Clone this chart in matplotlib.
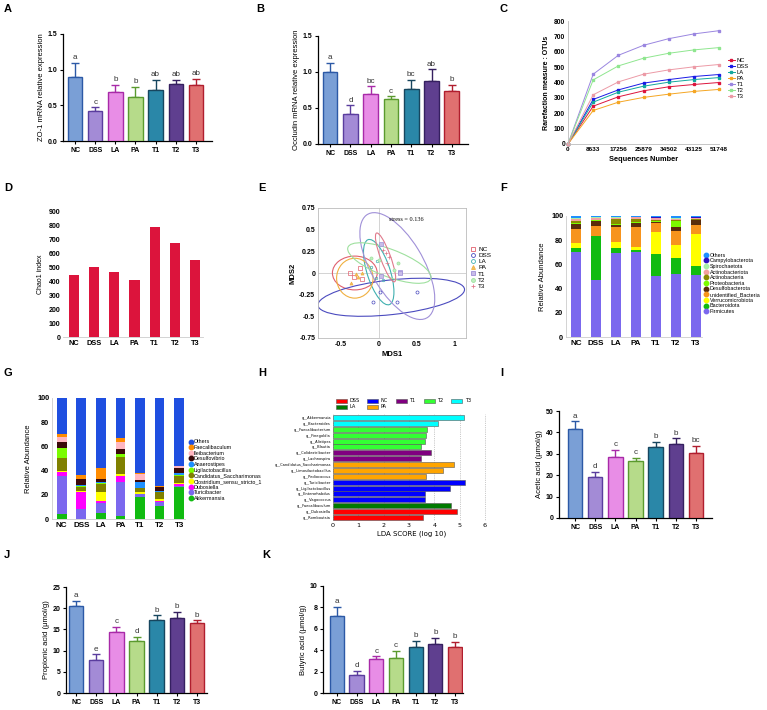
import numpy as np
import matplotlib
matplotlib.use("Agg")
import matplotlib.pyplot as plt
from matplotlib.patches import Ellipse, Patch
from matplotlib.lines import Line2D

plt.rcParams['font.family'] = ['Liberation Sans', 'DejaVu Sans']
plt.rcParams['axes.linewidth'] = 0.9

W, H = 767, 710
groups = ['NC', 'DSS', 'LA', 'PA', 'T1', 'T2', 'T3']

# ---- bar panels (mean, sd, letters)
zo1_mean = [0.90, 0.42, 0.69, 0.62, 0.72, 0.80, 0.78]
zo1_sd = [0.20, 0.05, 0.10, 0.14, 0.14, 0.055, 0.09]
zo1_let = ['a', 'c', 'b', 'b', 'ab', 'ab', 'ab']

occ_mean = [1.00, 0.41, 0.69, 0.62, 0.77, 0.87, 0.74]
occ_sd = [0.13, 0.13, 0.11, 0.04, 0.12, 0.17, 0.08]
occ_let = ['a', 'd', 'bc', 'c', 'bc', 'ab', 'b']

ace_mean = [41.6, 19.2, 28.3, 26.5, 33.3, 34.7, 30.5]
ace_sd = [3.6, 2.3, 3.7, 1.7, 2.3, 2.5, 3.2]
ace_let = ['a', 'd', 'c', 'c', 'b', 'b', 'bc']

pro_mean = [20.5, 7.9, 14.4, 12.2, 17.3, 17.8, 16.5]
pro_sd = [1.2, 1.2, 1.2, 1.1, 1.0, 1.4, 0.6]
pro_let = ['a', 'e', 'c', 'd', 'b', 'b', 'b']

but_mean = [7.24, 1.71, 3.17, 3.23, 4.32, 4.60, 4.29]
but_sd = [0.83, 0.37, 0.25, 0.71, 0.56, 0.56, 0.52]
but_let = ['a', 'd', 'c', 'c', 'b', 'b', 'b']

# ---- rarefaction
seq_num = [0, 8633, 17256, 25879, 34502, 43125, 51748]
rare = {
    'NC': [0, 246, 307, 346, 372, 387, 400],
    'DSS': [0, 290, 352, 396, 419, 439, 452],
    'LA': [0, 272, 337, 376, 402, 419, 432],
    'PA': [0, 218, 272, 303, 324, 342, 355],
    'T1': [0, 454, 577, 642, 685, 716, 737],
    'T2': [0, 417, 508, 558, 590, 612, 627],
    'T3': [0, 320, 404, 454, 482, 502, 517],
}
rare_col = {'NC': '#dc143c', 'DSS': '#1a1ae6', 'LA': '#13a89e', 'PA': '#f5a623',
            'T1': '#9a86e0', 'T2': '#8fe68f', 'T3': '#ec9aa6'}

# ---- chao1
chao1 = [445, 498, 467, 410, 788, 669, 552]

# ---- NMDS points
nmds = {
    'NC': ([-0.38, -0.32, -0.25, -0.215], [0.0, -0.045, 0.062, -0.066]),
    'DSS': ([-0.075, 0.02, 0.245, 0.50], [-0.34, -0.22, -0.34, -0.22]),
    'LA': ([-0.10, -0.02, -0.04, 0.057], [0.066, 0.14, -0.055, -0.08]),
    'PA': ([-0.36, -0.30, -0.22, -0.27], [-0.12, -0.015, -0.004, -0.05]),
    'T1': ([0.026, 0.035, 0.285, 0.285], [0.33, -0.035, 0.015, -0.005]),
    'T2': ([-0.10, 0.01, 0.25, 0.20], [0.17, 0.15, 0.12, 0.03]),
    'T3': ([0.05, 0.09, 0.13, 0.11], [0.27, 0.23, 0.19, 0.12]),
}
# centre x, centre y, width, height, angle
nmds_ell = {
    'NC': (-0.315, 0.0, 0.59, 0.39, 0),
    'PA': (-0.315, -0.06, 0.48, 0.46, 0),
    'DSS': (0.165, -0.28, 1.94, 0.40, 5.5),
    'T1': (0.245, 0.08, 1.43, 0.67, -55),
    'T2': (0.14, 0.115, 1.15, 0.32, -18),
    'LA': (0.0, 0.01, 0.80, 0.30, -69),
    'T3': (0.09, 0.18, 0.61, 0.13, -67),
}
nmds_style = {
    'NC': ('s', '#e0606e', 'none'), 'DSS': ('o', '#4b4bbf', 'none'),
    'LA': ('o', '#40b0b0', 'none'), 'PA': ('^', '#f0b040', '#f0c060'),
    'T1': ('s', '#a090d8', '#c8bce8'), 'T2': ('o', '#9ee09e', '#c0f0c0'),
    'T3': ('+', '#e07a8c', '#e07a8c'),
}

# ---- phylum relative abundance
phyla = ['Firmicutes', 'Bacteroidota', 'Verrucomicrobiota', 'unidentified_Bacteria',
         'Desulfobacterota', 'Proteobacteria', 'Actinobacteria', 'Actinobacteriota',
         'Spirochaetota', 'Campylobacterota']
phy_vals = np.array([
    [70.5, 46.8, 69.1, 70.5, 50.4, 52.3, 51.2],
    [2.8, 36.7, 4.7, 1.4, 18.2, 13.3, 7.5],
    [4.1, 0.3, 4.7, 2.8, 18.2, 10.4, 26.4],
    [11.6, 8.0, 12.1, 15.9, 7.2, 11.3, 7.7],
    [4.4, 4.2, 2.2, 3.9, 1.0, 3.6, 3.9],
    [0.6, 0.3, 0.6, 0.5, 1.1, 5.2, 0.3],
    [1.9, 0.8, 3.8, 2.5, 0.3, 0.9, 0.5],
    [1.3, 1.3, 1.4, 1.4, 1.6, 0.8, 0.8],
    [0.8, 0.5, 0.3, 0.2, 0.3, 0.5, 0.3],
    [0.6, 0.3, 0.2, 0.2, 1.1, 0.3, 0.8],
])
phy_cols = ['#7b68ee', '#11bb11', '#ffff00', '#f7941d', '#5a2d0c', '#7cfc00',
            '#8b8b00', '#f4a0a0', '#a8f0a8', '#3010c0', '#1e90ff']

# ---- genus relative abundance
genera = ['Akkermansia', 'Turicibacter', 'Dubosiella', 'Clostridium_sensu_stricto_1',
          'Candidatus_Saccharimonas', 'Ligilactobacillus', 'Anaerostipes', 'Desulfovibrio',
          'Ileibacterium', 'Faecalibaculum']
gen_vals = np.array([
    [3.9, 0.2, 4.7, 2.2, 18.5, 10.8, 26.2],
    [31.7, 8.1, 8.3, 28.2, 2.2, 3.6, 1.4],
    [3.3, 14.4, 1.9, 5.2, 0.3, 0.5, 1.1],
    [1.1, 0.8, 7.2, 1.7, 1.7, 1.4, 1.4],
    [10.8, 3.3, 6.6, 14.1, 2.7, 5.8, 5.8],
    [7.5, 0.3, 1.4, 2.2, 0.3, 0.2, 0.3],
    [0.3, 0.8, 0.8, 0.3, 5.0, 0.9, 2.2],
    [4.9, 5.2, 2.2, 4.1, 1.9, 3.0, 3.6],
    [3.9, 0.3, 0.3, 5.6, 4.7, 0.2, 1.4],
    [2.8, 2.8, 9.1, 3.6, 0.8, 0.9, 0.3],
])
gen_cols = ['#11bb11', '#7b68ee', '#ff00ff', '#ffff00', '#808000', '#7cfc00',
            '#1e90ff', '#3b0a0a', '#ffb6c1', '#ff8c00', '#1f4fe0']

# ---- LEfSe
lda_taxa = ['g__Akkermansia', 'g__Bacteroides', 'g__Faecalibacterium', 'g__Finegoldia',
            'g__Alistipes', 'g__Blautia', 'g__Colidextribacter', 'g__Lachnospira',
            'g__Candidatus_Saccharimonas', 'g__Limosilactobacillus', 'g__Pediococcus',
            'g__Turicibacter', 'g__Ligilactobacillus', 'g__Enterorhabdus', 'g__Vagococcus',
            'g__Faecalibaculum', 'g__Dubosiella', 'g__Romboutsia']
lda_score = [5.16, 4.16, 3.73, 3.69, 3.63, 3.46, 3.87, 3.46, 4.76, 4.35, 3.68,
             5.21, 4.64, 3.65, 3.65, 4.67, 4.89, 3.56]
lda_group = ['T3', 'T3', 'T2', 'T2', 'T2', 'T2', 'T1', 'T1', 'PA', 'PA', 'PA',
             'NC', 'NC', 'NC', 'NC', 'LA', 'DSS', 'DSS']
lda_col = {'DSS': '#ff0000', 'NC': '#0000ff', 'T1': '#800080', 'T2': '#33ff33',
           'T3': '#00ffff', 'LA': '#007a00', 'PA': '#ffa500'}

bar_face = ['#7a9fd6', '#a38bd6', '#e88de6', '#b6db8a', '#2a87a8', '#5f3f8f', '#e07070']
bar_edge = ['#2c59a6', '#5a3d9e', '#a82aa8', '#5a9a2e', '#17465f', '#352060', '#b01e2e']

fig = plt.figure(figsize=(W / 100, H / 100), dpi=100)


def px_axes(x0, y0, x1, y1):
    return fig.add_axes([x0 / W, 1 - y1 / H, (x1 - x0) / W, (y1 - y0) / H])


def panel_label(x, y, s):
    fig.text(x / W, 1 - y / H, s, fontsize=8, fontweight='bold', va='top', ha='left')


def sig_bars(ax, mean, sd, letters, ymax, ystep, ylabel, fmt='{:g}', xlim=(-0.6, 6.8)):
    x = np.arange(len(groups))
    ax.bar(x, mean, width=0.72, color=bar_face, edgecolor=bar_edge, linewidth=1.0, zorder=3)
    for i in range(len(groups)):
        ax.errorbar(x[i], mean[i], yerr=[[0], [sd[i]]], fmt='none', ecolor=bar_edge[i],
                    elinewidth=1.0, capsize=3, capthick=1.0, zorder=2)
        ax.text(x[i], mean[i] + sd[i] + ymax * 0.015, letters[i], ha='center', va='bottom',
                fontsize=5.8, color='#333333')
    ax.set_xlim(*xlim)
    ax.set_ylim(0, ymax)
    ticks = np.arange(0, ymax + ystep / 2, ystep)
    ax.set_yticks(ticks)
    ax.set_yticklabels([fmt.format(t) for t in ticks], fontsize=5, fontweight='bold')
    ax.set_xticks(x)
    ax.set_xticklabels(groups, fontsize=5, fontweight='bold')
    ax.tick_params(length=2.5, width=0.8, pad=1.5)
    ax.set_ylabel(ylabel, fontsize=5.5, labelpad=2)
    for s in ['top', 'right']:
        ax.spines[s].set_visible(False)


# A
ax = px_axes(63, 34, 212, 141)
sig_bars(ax, zo1_mean, zo1_sd, zo1_let, 1.5, 0.5, 'ZO-1 mRNA relative expression', '{:.1f}')
panel_label(4, 4, 'A')

# B
ax = px_axes(318, 36, 468, 144)
sig_bars(ax, occ_mean, occ_sd, occ_let, 1.5, 0.5, 'Occludin mRNA relative expression', '{:.1f}')
panel_label(256, 4, 'B')

# C rarefaction
ax = px_axes(568, 21, 719, 144)
for g in groups:
    ax.plot(seq_num, rare[g], color=rare_col[g], lw=0.7, marker='s', ms=1.6, label=g, clip_on=False)
ax.set_xlim(0, 51748)
ax.set_ylim(0, 800)
ax.set_xticks(seq_num)
ax.set_xticklabels([str(v) for v in seq_num], fontsize=4.6, fontweight='bold')
ax.set_yticks(range(0, 801, 100))
ax.set_yticklabels([str(v) for v in range(0, 801, 100)], fontsize=4.8, fontweight='bold')
ax.tick_params(length=0, pad=2)
ax.set_xlabel('Sequences Number', fontsize=5.3, fontweight='bold', labelpad=3)
ax.set_ylabel('Rarefaction measure : OTUs', fontsize=5, fontweight='bold', labelpad=3)
for s in ['top', 'right']:
    ax.spines[s].set_visible(False)
ax.spines['left'].set_color('#bbbbbb')
ax.spines['bottom'].set_color('#bbbbbb')
ax.spines['left'].set_linewidth(0.6)
ax.spines['bottom'].set_linewidth(0.6)
ax.legend(loc='upper left', bbox_to_anchor=(1.04, 0.72), fontsize=4.2, frameon=False,
          handlelength=1.2, handletextpad=0.3, labelspacing=0.15, borderpad=0)
panel_label(500, 4, 'C')

# D chao1
ax = px_axes(63, 211, 203, 337)
ax.bar(np.arange(7), chao1, width=0.5, color='#dc143c')
ax.set_xlim(-0.55, 6.4)
ax.set_ylim(0, 900)
ax.set_yticks(range(0, 901, 100))
ax.set_yticklabels([str(v) for v in range(0, 901, 100)], fontsize=5, fontweight='bold')
ax.set_xticks(np.arange(7))
ax.set_xticklabels(groups, fontsize=5.3, fontweight='bold')
ax.tick_params(length=0, pad=2)
ax.set_ylabel('Chao1 index', fontsize=5, labelpad=3)
for s in ['top', 'right', 'left']:
    ax.spines[s].set_visible(False)
ax.spines['bottom'].set_color('#cccccc')
ax.spines['bottom'].set_linewidth(0.6)
panel_label(4, 183, 'D')

# E NMDS
ax = px_axes(318, 208, 466, 338)
ax.axhline(0, color='#cccccc', lw=0.6, zorder=0)
ax.axvline(0, color='#cccccc', lw=0.6, zorder=0)
handles = []
for g in groups:
    cx, cy, w, h, ang = nmds_ell[g]
    mk, col, fc = nmds_style[g]
    ax.add_patch(Ellipse((cx, cy), w, h, angle=ang, fill=False, edgecolor=col, lw=0.8))
    xs, ys = nmds[g]
    ms = 2.2 if g != 'LA' else 1.8
    ax.plot(xs, ys, ls='none', marker=mk, ms=ms, mec=col, mfc=fc, mew=0.5)
    handles.append(Line2D([], [], ls='none', marker=mk, ms=2.8, mec=col, mfc=fc, mew=0.6, label=g))
ax.set_xlim(-0.8, 1.15)
ax.set_ylim(-0.75, 0.75)
ax.set_xticks([-0.5, 0, 0.5, 1])
ax.set_xticklabels(['-0.5', '0', '0.5', '1'], fontsize=5, fontweight='bold')
ax.set_yticks([-0.75, -0.5, -0.25, 0, 0.25, 0.5, 0.75])
ax.set_yticklabels(['-0.75', '-0.5', '-0.25', '0', '0.25', '0.5', '0.75'], fontsize=5, fontweight='bold')
ax.tick_params(length=0, pad=2)
ax.set_xlabel('MDS1', fontsize=5.5, fontweight='bold', labelpad=2)
ax.set_ylabel('MDS2', fontsize=5.5, fontweight='bold', labelpad=2)
for s in ax.spines.values():
    s.set_color('#bbbbbb')
    s.set_linewidth(0.6)
ax.text(0.37, 0.62, 'stress = 0.136', fontsize=4.5, family=['Liberation Serif', 'DejaVu Serif'],
        ha='center', va='center')
ax.legend(handles=handles, loc='upper left', bbox_to_anchor=(1.01, 0.73), fontsize=4.6,
          frameon=False, handlelength=0.8, handletextpad=0.4, labelspacing=0.12, borderpad=0)
panel_label(258, 183, 'E')


def stack_panel(ax, vals, cols, names, ylab):
    x = np.arange(7)
    bottom = np.zeros(7)
    for i in range(vals.shape[0]):
        ax.bar(x, vals[i], bottom=bottom, width=0.5, color=cols[i])
        bottom += vals[i]
    ax.bar(x, 100 - bottom, bottom=bottom, width=0.5, color=cols[-1])
    ax.set_xlim(-0.5, 6.3)
    ax.set_ylim(0, 100)
    ax.set_yticks(range(0, 101, 20))
    ax.set_yticklabels([str(v) for v in range(0, 101, 20)], fontsize=5.3, fontweight='bold')
    ax.set_xticks(x)
    ax.set_xticklabels(groups, fontsize=5.8, fontweight='bold')
    ax.tick_params(length=0, pad=2)
    ax.set_ylabel(ylab, fontsize=5.5, labelpad=4)
    for s in ['top', 'right']:
        ax.spines[s].set_visible(False)
    ax.spines['left'].set_color('#cccccc')
    ax.spines['bottom'].set_color('#cccccc')
    ax.spines['left'].set_linewidth(0.6)
    ax.spines['bottom'].set_linewidth(0.6)
    hs = [Line2D([], [], ls='none', marker='o', ms=3.2, mfc=c, mec=c, label=n)
          for n, c in zip(list(names) + ['Others'], cols)]
    return hs[::-1]


# F phylum
ax = px_axes(566, 216, 702, 337)
hs = stack_panel(ax, phy_vals, phy_cols, phyla, 'Relative Abundance')
ax.legend(handles=hs, loc='upper left', bbox_to_anchor=(1.0, 0.72), fontsize=3.9, frameon=False,
          handlelength=0.6, handletextpad=0.3, labelspacing=0.12, borderpad=0)
panel_label(500, 183, 'F')

# G genus
ax = px_axes(52, 398, 185, 519)
hs = stack_panel(ax, gen_vals, gen_cols, genera, 'Relative Abundance')
ax.legend(handles=hs, loc='upper left', bbox_to_anchor=(1.01, 0.68), fontsize=3.9, frameon=False,
          handlelength=0.6, handletextpad=0.3, labelspacing=0.12, borderpad=0)
panel_label(4, 368, 'G')

# H LEfSe
ax = px_axes(333, 414, 490, 521)
y = np.arange(len(lda_taxa))
ax.barh(y, lda_score, height=0.85, color=[lda_col[g] for g in lda_group],
        edgecolor='#555555', linewidth=0.4, zorder=3)
ax.set_ylim(len(lda_taxa) - 0.4, -0.6)
ax.set_xlim(0, 6.2)
ax.set_yticks(y)
ax.set_yticklabels(lda_taxa, fontsize=2.6, family=['DejaVu Sans'])
ax.set_xticks(range(7))
ax.set_xticklabels([str(v) for v in range(7)], fontsize=4.6, family=['DejaVu Sans'])
ax.tick_params(length=0, pad=1.5)
ax.grid(axis='x', ls=':', color='#999999', lw=0.5, zorder=0)
for s in ax.spines.values():
    s.set_visible(False)
ax.set_xlabel('LDA SCORE (log 10)', fontsize=5, family=['DejaVu Sans'], labelpad=2)
leg_order = ['DSS', 'LA', 'NC', 'PA', 'T1', 'T2', 'T3']
ax.legend(handles=[Patch(facecolor=lda_col[g], edgecolor='#555555', lw=0.4, label=g) for g in leg_order],
          loc='lower left', bbox_to_anchor=(0.0, 1.02), ncol=5, frameon=False,
          handlelength=2.2, handleheight=0.8, handletextpad=0.5, columnspacing=1.6,
          labelspacing=0.2, borderpad=0, prop={'family': 'DejaVu Sans', 'size': 3.6})
panel_label(258, 368, 'H')

# I acetic
ax = px_axes(559, 411, 712, 518)
sig_bars(ax, ace_mean, ace_sd, ace_let, 50, 10, 'Acetic acid (μmol/g)', xlim=(-0.8, 6.8))
panel_label(500, 368, 'I')

# J propionic
ax = px_axes(66, 587, 207, 693)
sig_bars(ax, pro_mean, pro_sd, pro_let, 25, 5, 'Propionic acid (μmol/g)', xlim=(-0.5, 6.5))
panel_label(4, 550, 'J')

# K butyric
ax = px_axes(323, 586, 463, 693)
sig_bars(ax, but_mean, but_sd, but_let, 10, 2, 'Butyric acid (μmol/g)', xlim=(-0.7, 6.4))
panel_label(262, 550, 'K')

fig.savefig('out.png', dpi=100)
